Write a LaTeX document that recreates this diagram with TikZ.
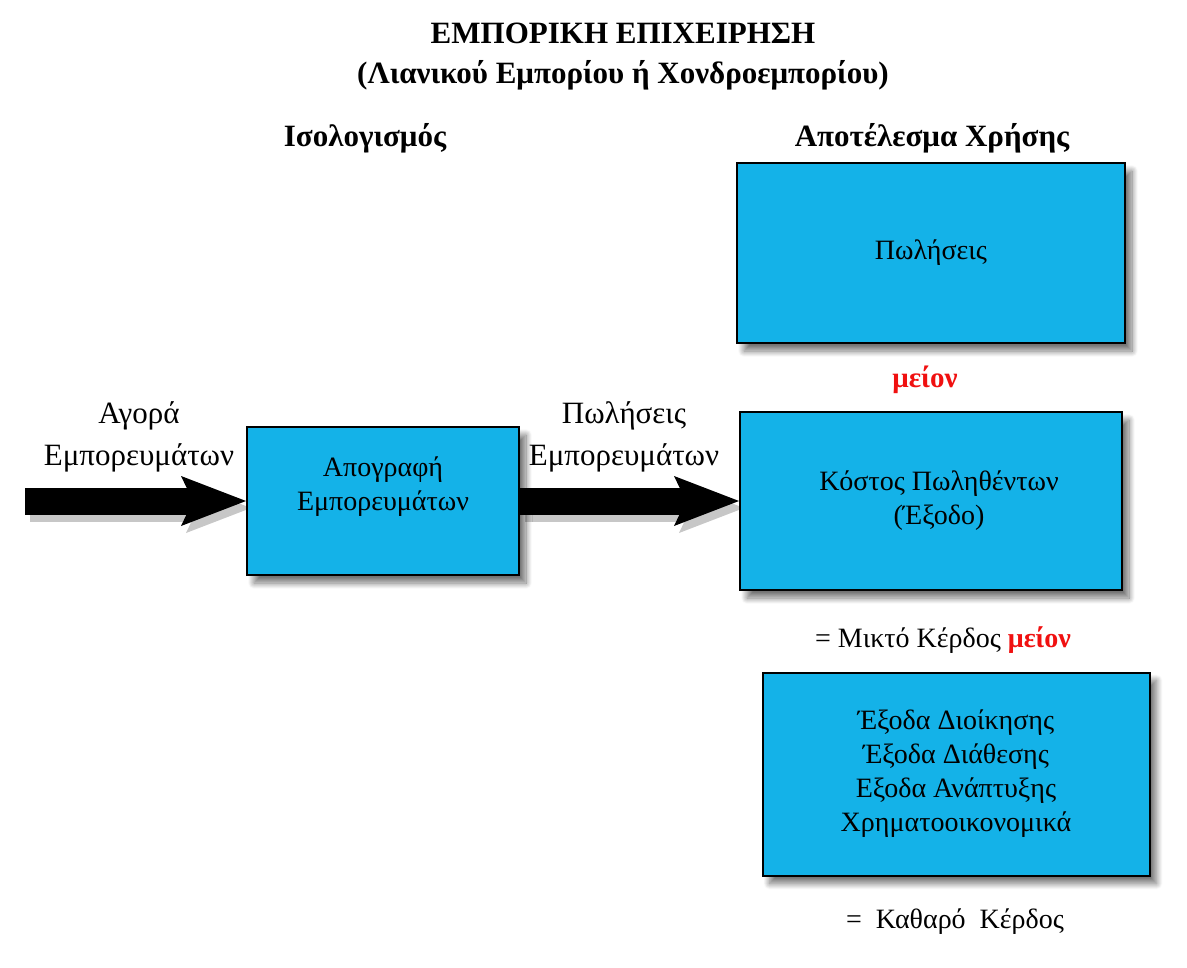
\documentclass[tikz,border=0pt]{standalone}
\usepackage{fontspec}
\setmainfont{Liberation Serif}
\usetikzlibrary{positioning,arrows.meta,shadows.blur,backgrounds}
\definecolor{boxblue}{RGB}{20,178,232}
\definecolor{minusred}{RGB}{240,16,16}
\begin{document}
\begin{tikzpicture}[x=1pt,y=-1pt,node distance=2cm,on grid,
    box/.style={draw=black,line width=2pt,fill=boxblue,inner sep=0pt,align=center,
      font=\fontsize{28}{34}\selectfont,
      blur shadow={shadow xshift=7pt,shadow yshift=-8pt,shadow blur steps=12,
        shadow blur radius=6pt,shadow opacity=55}},
    heading/.style={font=\bfseries\fontsize{31}{40}\selectfont,align=center},
    flowlabel/.style={font=\fontsize{31}{42}\selectfont,align=center},
    plain/.style={font=\fontsize{28}{34}\selectfont},
    meion/.style={text=minusred,font=\bfseries\fontsize{29}{34}\selectfont},
    fat/.style={line width=27pt,-{Stealth[length=65pt,width=50pt,inset=12pt,line width=0pt]}},
    fatshadow/.style={fat,draw=black!22,transform canvas={shift={(5pt,-7pt)}}}]
  \useasboundingbox (0,0) rectangle (1187,968);
  % titles
  \node[heading] (title) at (623,57) {ΕΜΠΟΡΙΚΗ ΕΠΙΧΕΙΡΗΣΗ\\(Λιανικού Εμπορίου ή Χονδροεμπορίου)};
  \node[heading] (isol) at (365,138) {Ισολογισμός};
  \node[heading] (apot) at (932,138) {Αποτέλεσμα Χρήσης};
  % boxes
  \node[box,minimum width=272pt,minimum height=148pt] (apog) at (383,501)
    {Απογραφή\\Εμπορευμάτων\\\mbox{}};
  \node[box,minimum width=382pt,minimum height=178pt,right=548pt of apog] (kostos)
    {\hspace*{16pt}Κόστος Πωληθέντων\\\hspace*{16pt}(Έξοδο)};
  \node[box,minimum width=388pt,minimum height=180pt,above=248pt of kostos] (pol) {Πωλήσεις};
  \node[box,minimum width=387pt,minimum height=203pt,below right=273pt and 25pt of kostos] (exoda)
    {Έξοδα Διοίκησης\\Έξοδα Διάθεσης\\Εξοδα Ανάπτυξης\\Χρηματοοικονομικά};
  % texts between the boxes
  \node[meion] (m1) at (925,380) {μείον};
  \node[plain] (mikto) at (943,640) {= Μικτό Κέρδος \textcolor{minusred}{\bfseries μείον}};
  \node[plain] (kathar) at (955,922) {=\ \ Καθαρό\ \ Κέρδος};
  \node[flowlabel] (agora) at (139,437) {Αγορά\\Εμπορευμάτων};
  \node[flowlabel] (pwl) at (624,437) {Πωλήσεις\\Εμπορευμάτων};
  % arrows
  \coordinate (in) at (25,501);
  \begin{scope}[on background layer]
    \draw[fatshadow] (in) -- (apog.west);
    \draw[fatshadow] (apog.east) -- (kostos.west);
  \end{scope}
  \draw[fat] (in) -- (apog.west);
  \draw[fat] (apog.east) -- (kostos.west);
\end{tikzpicture}
\end{document}
